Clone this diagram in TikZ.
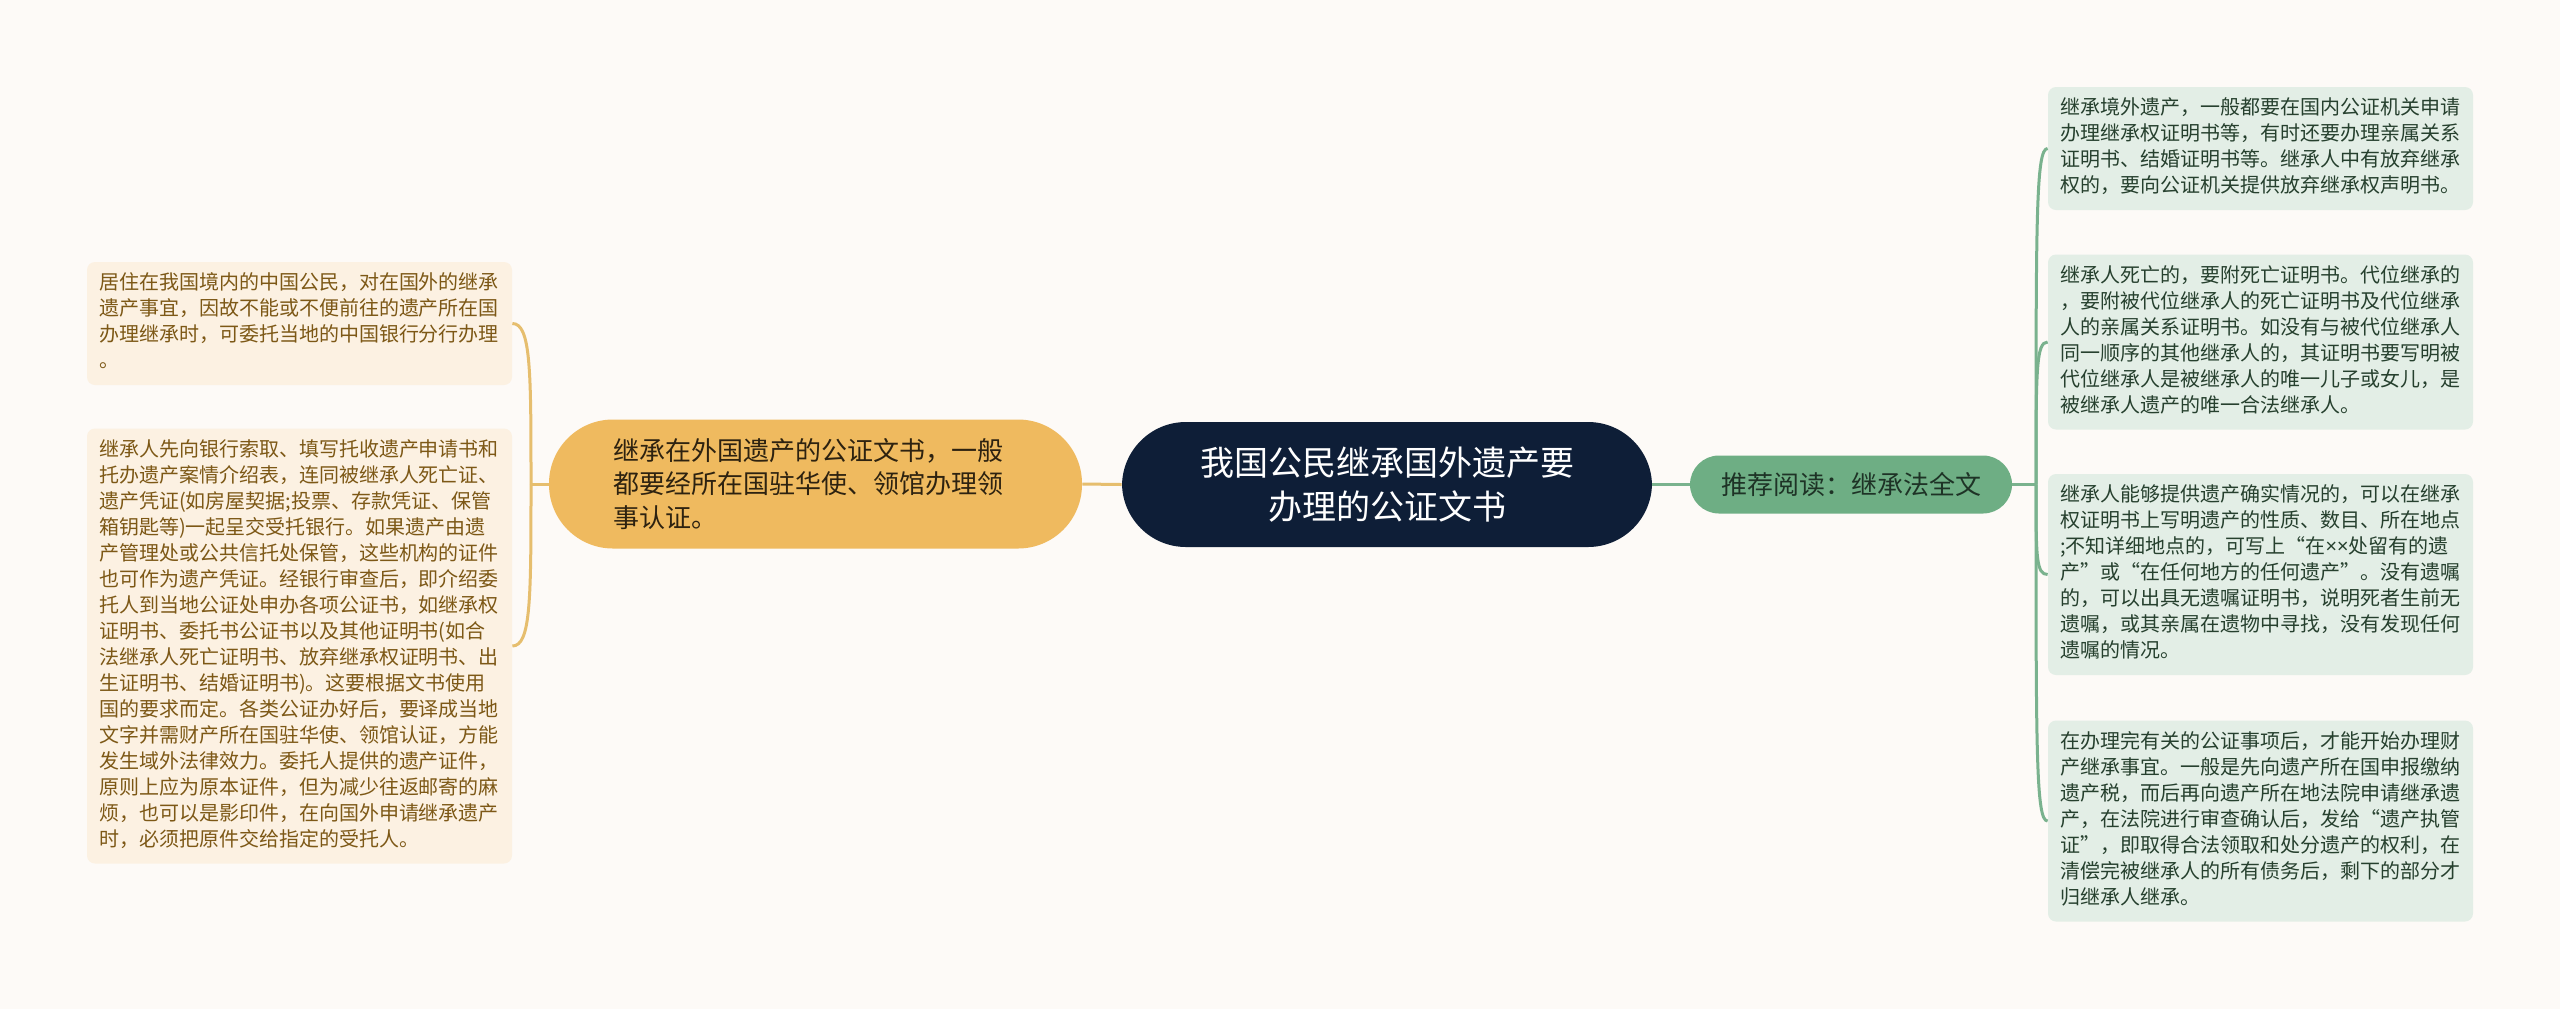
\documentclass[tikz,border=0pt]{standalone}
\usepackage{fontspec}
\setmainfont{Noto Sans CJK SC}
\newfontfamily\latinf{Noto Sans}
\usetikzlibrary{calc}

\definecolor{bgc}{RGB}{253,250,247}
\definecolor{lfill}{RGB}{252,241,226}
\definecolor{ltext}{RGB}{125,88,22}
\definecolor{rfill}{RGB}{227,238,230}
\definecolor{rtext}{RGB}{38,64,46}
\definecolor{ofill}{RGB}{239,186,95}
\definecolor{otext}{RGB}{45,34,16}
\definecolor{tfill}{RGB}{14,30,55}
\definecolor{gfill}{RGB}{110,174,132}
\definecolor{gtext}{RGB}{30,51,38}
\definecolor{lline}{RGB}{230,190,110}
\definecolor{rline}{RGB}{122,178,142}

\begin{document}
\begin{tikzpicture}[x=0.5pt,y=-0.5pt,
  leaf/.style={rounded corners=4pt,inner xsep=6pt,inner ysep=4.75pt,
    text width=200.5pt,align=left,font=\fontsize{10pt}{13pt}\selectfont,
    execute at begin node=\strut,execute at end node=\strut},
  leafl/.style={leaf,fill=lfill,text=ltext},
  leafr/.style={leaf,fill=rfill,text=rtext},
  pill/.style={rounded corners=32pt,inner sep=0pt},
  lcon/.style={lline,line width=1.5pt},
  rcon/.style={rline,line width=1.5pt}]

\fill[bgc] (0,0) rectangle (2560,1009);

% centre and first level
\node[pill,fill=tfill,text=white,minimum width=265pt,minimum height=62.5pt,
      align=center,font=\fontsize{17pt}{22pt}\selectfont] (T) at (1387,484.5)
      {我国公民继承国外遗产要\\办理的公证文书};
\node[pill,fill=ofill,text=otext,minimum width=266.5pt,minimum height=64.5pt,
      text width=202pt,align=left,font=\fontsize{13pt}{16.75pt}\selectfont] (O) at (815.5,484)
      {继承在外国遗产的公证文书，一般\\都要经所在国驻华使、领馆办理领\\事认证。};
\node[pill,rounded corners=14.5pt,fill=gfill,text=gtext,minimum width=161pt,minimum height=29pt,
      font=\fontsize{13pt}{16pt}\selectfont] (G) at (1851,484.5)
      {推荐阅读：继承法全文};

% left leaves
\node[leafl] (L1) at (299.5,323.5)
  {居住在我国境内的中国公民，对在国外的继承\\
   遗产事宜，因故不能或不便前往的遗产所在国\\
   办理继承时，可委托当地的中国银行分行办理\\
   。};
\node[leafl] (L2) at (299.5,646)
  {继承人先向银行索取、填写托收遗产申请书和\\
   托办遗产案情介绍表，连同被继承人死亡证、\\
   遗产凭证(如房屋契据;投票、存款凭证、保管\\
   箱钥匙等)一起呈交受托银行。如果遗产由遗\\
   产管理处或公共信托处保管，这些机构的证件\\
   也可作为遗产凭证。经银行审查后，即介绍委\\
   托人到当地公证处申办各项公证书，如继承权\\
   证明书、委托书公证书以及其他证明书(如合\\
   法继承人死亡证明书、放弃继承权证明书、出\\
   生证明书、结婚证明书)。这要根据文书使用\\
   国的要求而定。各类公证办好后，要译成当地\\
   文字并需财产所在国驻华使、领馆认证，方能\\
   发生域外法律效力。委托人提供的遗产证件，\\
   原则上应为原本证件，但为减少往返邮寄的麻\\
   烦，也可以是影印件，在向国外申请继承遗产\\
   时，必须把原件交给指定的受托人。};

% right leaves
\node[leafr] (R1) at (2260.5,148.5)
  {继承境外遗产，一般都要在国内公证机关申请\\
   办理继承权证明书等，有时还要办理亲属关系\\
   证明书、结婚证明书等。继承人中有放弃继承\\
   权的，要向公证机关提供放弃继承权声明书。};
\node[leafr] (R2) at (2260.5,342)
  {继承人死亡的，要附死亡证明书。代位继承的\\
   ，要附被代位继承人的死亡证明书及代位继承\\
   人的亲属关系证明书。如没有与被代位继承人\\
   同一顺序的其他继承人的，其证明书要写明被\\
   代位继承人是被继承人的唯一儿子或女儿，是\\
   被继承人遗产的唯一合法继承人。};
\node[leafr] (R3) at (2260.5,574.5)
  {继承人能够提供遗产确实情况的，可以在继承\\
   权证明书上写明遗产的性质、数目、所在地点\\
   ;不知详细地点的，可写上“在{\latinf ××}处留有的遗\\
   产”或“在任何地方的任何遗产”。没有遗嘱\\
   的，可以出具无遗嘱证明书，说明死者生前无\\
   遗嘱，或其亲属在遗物中寻找，没有发现任何\\
   遗嘱的情况。};
\node[leafr] (R4) at (2260.5,821)
  {在办理完有关的公证事项后，才能开始办理财\\
   产继承事宜。一般是先向遗产所在国申报缴纳\\
   遗产税，而后再向遗产所在地法院申请继承遗\\
   产，在法院进行审查确认后，发给“遗产执管\\
   证”，即取得合法领取和处分遗产的权利，在\\
   清偿完被继承人的所有债务后，剩下的部分才\\
   归继承人继承。};

% connectors
\coordinate (lj) at (531,484);
\coordinate (rj) at (2036,484.5);
\draw[lcon] (T.west) -- (O.east);
\draw[rcon] (T.east) -- (G.west);
\draw[lcon] (O.west) -- (lj);
\draw[rcon] (G.east) -- (rj);
\foreach \n in {L1,L2}
  \draw[lcon] (lj) .. controls ($(lj)!.7!(lj |- \n.east)$) and (lj |- \n.east) .. (\n.east);
\foreach \n in {R1,R2,R3,R4}
  \draw[rcon] (rj) .. controls ($(rj)!.8!(rj |- \n.west)$) and (rj |- \n.west) .. (\n.west);

\end{tikzpicture}
\end{document}
